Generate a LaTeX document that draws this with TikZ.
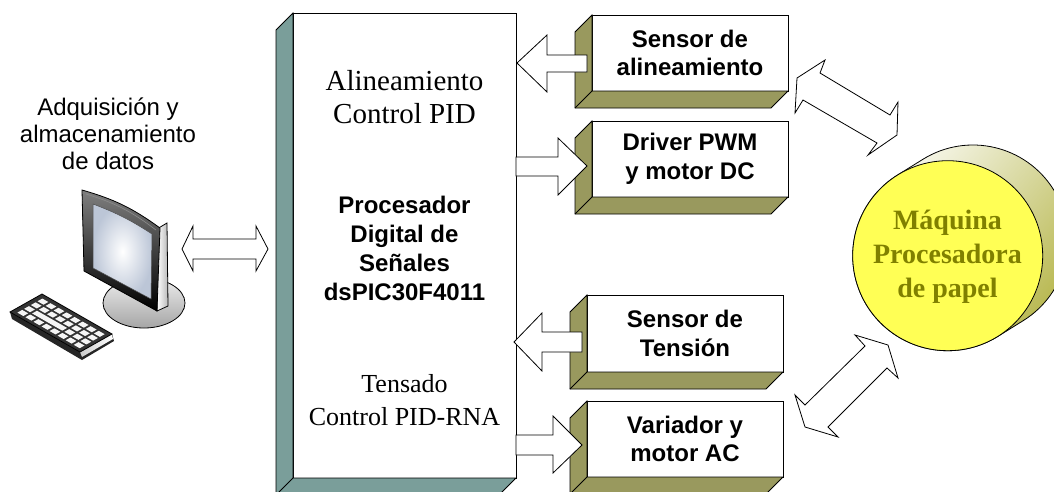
\documentclass[tikz,border=0pt]{standalone}
\usepackage{fontspec}
\setmainfont{Liberation Serif}
\setsansfont{Liberation Sans}
\usetikzlibrary{calc}

\definecolor{procside}{RGB}{122,158,154}
\definecolor{boxside}{RGB}{153,153,94}
\definecolor{machfill}{RGB}{255,255,85}
\definecolor{machtext}{RGB}{128,128,0}
\definecolor{machback}{RGB}{180,180,70}
\definecolor{screenedge}{RGB}{188,198,215}

\begin{document}
\begin{tikzpicture}[x=1pt,y=-1pt,
  outline/.style={draw=black,line width=0.8pt,line join=miter},
  frontface/.style={outline,fill=white,rectangle,inner sep=0pt,outer sep=0pt},
  blockarrow/.style={outline,fill=white},
  boxlabel/.style={font=\sffamily\bfseries\fontsize{24}{28.5}\selectfont,align=center,inner sep=0pt},
  serifA/.style={font=\rmfamily\fontsize{29}{33}\selectfont,align=center,inner sep=0pt},
  serifB/.style={font=\rmfamily\fontsize{26}{33}\selectfont,align=center,inner sep=0pt},
  pclabel/.style={font=\sffamily\fontsize{24}{27}\selectfont,align=center,inner sep=0pt},
  machlabel/.style={font=\rmfamily\bfseries\fontsize{28}{34}\selectfont,align=center,text=machtext,inner sep=0pt},
  keyfill/.style={fill=white!92!gray},
]
\useasboundingbox (0,0) rectangle (1054,491);

% ---------- processor block ----------
\node[frontface,minimum width=223pt,minimum height=465pt] (dsp) at (404.5,245.5) {};
\fill[procside,draw=black,line width=0.8pt]
  (dsp.north west) -- ++(-17,17) -- ($(dsp.south west)+(-17,17)$)
  -- ($(dsp.south east)+(-17,17)$) -- (dsp.south east) -- (dsp.south west) -- cycle;
\draw[outline] (dsp.south west) -- ++(-17,17);

\node[serifA] (alin) at (404.5,97) {Alineamiento\\Control PID};
\node[boxlabel,font=\sffamily\bfseries\fontsize{24}{29}\selectfont] (dsptxt) at (404.5,248) {Procesador\\Digital de\\Señales\\dsPIC30F4011};
\node[serifB] (tens) at (404.5,400) {Tensado\\Control PID-RNA};

% ---------- peripheral blocks ----------
\foreach \nm/\cx/\cy/\w/\h in {sa/690/53/196/76, dr/690/159/196/76, st/685/333.5/196/77, va/685/439/196/76} {
  \node[frontface,minimum width=\w pt,minimum height=\h pt] (\nm) at (\cx,\cy) {};
  \fill[boxside,draw=black,line width=0.8pt]
    (\nm.north west) -- ++(-17,17) -- ($(\nm.south west)+(-17,17)$)
    -- ($(\nm.south east)+(-17,17)$) -- (\nm.south east) -- (\nm.south west) -- cycle;
  \draw[outline] (\nm.south west) -- ++(-17,17);
}
\node[boxlabel] (satxt) at (sa.center) {Sensor de\\alineamiento};
\node[boxlabel] (drtxt) at (dr.center) {Driver PWM\\y motor DC};
\node[boxlabel] (sttxt) at (st.center) {Sensor de\\Tensión};
\node[boxlabel] (vatxt) at (va.center) {Variador y\\motor AC};

% ---------- block arrows between processor and peripherals ----------
\draw[blockarrow] (517,63) -- (547,35) -- (547,55) -- (587,55) -- (587,72) -- (547,72) -- (547,92) -- cycle;
\draw[blockarrow] (516,157) -- (558,157) -- (558,138) -- (587,166) -- (558,195) -- (558,176) -- (516,176) -- cycle;
\draw[blockarrow] (514,342) -- (542,313) -- (542,332) -- (582,332) -- (582,352) -- (542,352) -- (542,371) -- cycle;
\draw[blockarrow] (516,435) -- (553,435) -- (553,416) -- (582,445) -- (553,473) -- (553,455) -- (516,455) -- cycle;

% ---------- paper machine ----------
\coordinate (mf) at (947.7,255.7);
\coordinate (mb) at (973,240);
\path[outline,left color=white,right color=machback,shading angle=50]
  ($(mf)+(58.2:95)$) arc[start angle=58.2,end angle=238.2,radius=95]
  -- ($(mb)+(238.2:95)$) arc[start angle=238.2,end angle=418.2,radius=95] -- cycle;
\node[circle,outline,fill=machfill,minimum size=190pt,inner sep=0pt] (mach) at (mf) {};
\node[machlabel] (machtxt) at (947.5,257) {Máquina\\Procesadora\\de papel};

% double arrows to the machine
\draw[blockarrow] (825,60) -- (820,73) -- (890,115) -- (898,102) -- (897,135) -- (868,155)
  -- (877,143) -- (803,100) -- (795,113) -- (797,78) -- cycle;
\draw[blockarrow] (855,335) -- (865,346) -- (805,405) -- (795,395) -- (805,427) -- (838,437)
  -- (828,427) -- (887,368) -- (898,378) -- (888,345) -- cycle;

% ---------- computer ----------
\node[pclabel] (pctxt) at (108,134) {Adquisición y\\almacenamiento\\de datos};

% monitor base
\draw[outline,top color=gray!15,bottom color=gray!70] (144,303) ellipse[x radius=41,y radius=25];
% monitor side strip
\draw[outline,left color=white,right color=gray!55] (157,229) -- (167,223) -- (168,306) -- (157,311) -- cycle;
% monitor frame
\draw[outline,top color=black!50,bottom color=black] (82,190) to[bend left=10] (160,228) -- (157,311) -- (84,271) -- cycle;
\draw[black!45,line width=0.6pt] (86,194) to[bend left=10] (156,230);
% screen
\draw[line width=0.5pt,draw=black!70,inner color=white,outer color=screenedge]
  (93,204) to[bend left=6] (152,234) -- (151,299) -- (93,268) -- cycle;

% keyboard body
\fill[black!85] (10,312) -- (12,319) -- (82,360) -- (114,341) -- (112,334) -- (80,352) -- cycle;
\fill[left color=gray!40,right color=white] (80,352) -- (112,334) -- (113,339) -- (82,357) -- cycle;
\begin{scope}[shift={(10,312)},x={(70pt,-40pt)},y={(32pt,18pt)}]
  \draw[black,line width=0.8pt,fill=black!80] (0,0) -- (1,0) -- (1,1) -- (0,1) -- cycle;
  \foreach \j in {0,1,2,3} {
    \foreach \i in {0,...,7} {
      \ifnum\j=1 \ifnum\i>0 \ifnum\i<5 \else
        \fill[keyfill] ({0.06+\i*0.115},{0.1+\j*0.21}) -- ++(0.085,0) -- ++(0,0.15) -- ++(-0.085,0) -- cycle;
      \fi \else
        \fill[keyfill] ({0.06+\i*0.115},{0.1+\j*0.21}) -- ++(0.085,0) -- ++(0,0.15) -- ++(-0.085,0) -- cycle;
      \fi \else
        \fill[keyfill] ({0.06+\i*0.115},{0.1+\j*0.21}) -- ++(0.085,0) -- ++(0,0.15) -- ++(-0.085,0) -- cycle;
      \fi
    }
  }
  \fill[keyfill] ({0.06+0.115},{0.31}) -- ++(0.43,0) -- ++(0,0.15) -- ++(-0.43,0) -- cycle;
\end{scope}

% link between computer and processor
\draw[blockarrow] (182,249) -- (193,226) -- (193,239) -- (256,239) -- (256,226) -- (268,249)
  -- (256,271) -- (256,259) -- (193,259) -- (193,271) -- cycle;

\end{tikzpicture}
\end{document}
